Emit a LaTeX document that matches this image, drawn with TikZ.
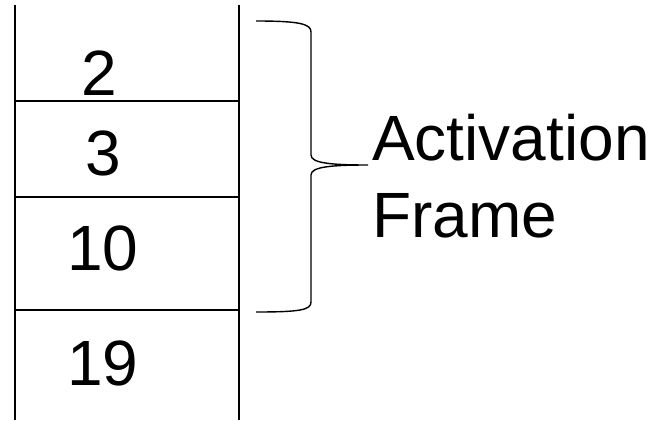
\documentclass[tikz,border=0pt]{standalone}
\usepackage{fontspec}
\setmainfont{Liberation Sans}
\begin{document}
\begin{tikzpicture}[x=1pt,y=-1pt,
  line/.style={line width=1.4pt,black},
  num/.style={anchor=base,inner sep=0pt,font=\fontsize{64}{64}\selectfont},
  lbl/.style={anchor=base west,inner sep=0pt,font=\fontsize{64}{64}\selectfont}]
\useasboundingbox (0,0) rectangle (652,420);
% stack walls
\coordinate (tl) at (15,5);
\coordinate (bl) at (15,420);
\coordinate (tr) at (239,5);
\coordinate (br) at (239,420);
\draw[line] (tl) -- (bl);
\draw[line] (tr) -- (br);
% separators
\coordinate (s1l) at (15,101); \coordinate (s1r) at (239,101);
\coordinate (s2l) at (15,197); \coordinate (s2r) at (239,197);
\coordinate (s3l) at (15,310); \coordinate (s3r) at (239,310);
\draw[line] (s1l) -- (s1r);
\draw[line] (s2l) -- (s2r);
\draw[line] (s3l) -- (s3r);
% values
\node[num] (v2) at (99,95) {2};
\node[num] (v3) at (103,175) {3};
\node[num] (v10) at (103,270) {10};
\node[num] (v19) at (103,385) {19};
% brace
\coordinate (btop) at (256,21);
\coordinate (btip) at (368,165);
\coordinate (bbot) at (256,312);
\draw[line] (btop) .. controls (300,21) and (311,24) .. (311,32) -- (311,155)
  .. controls (311,163) and (330,165) .. (btip)
  .. controls (330,165) and (311,167) .. (311,175) -- (311,302)
  .. controls (311,310) and (300,312) .. (bbot);
% label
\node[lbl] (act) at (372,160) {Activation};
\node[lbl] (frm) at (372,237) {Frame};
\end{tikzpicture}
\end{document}
